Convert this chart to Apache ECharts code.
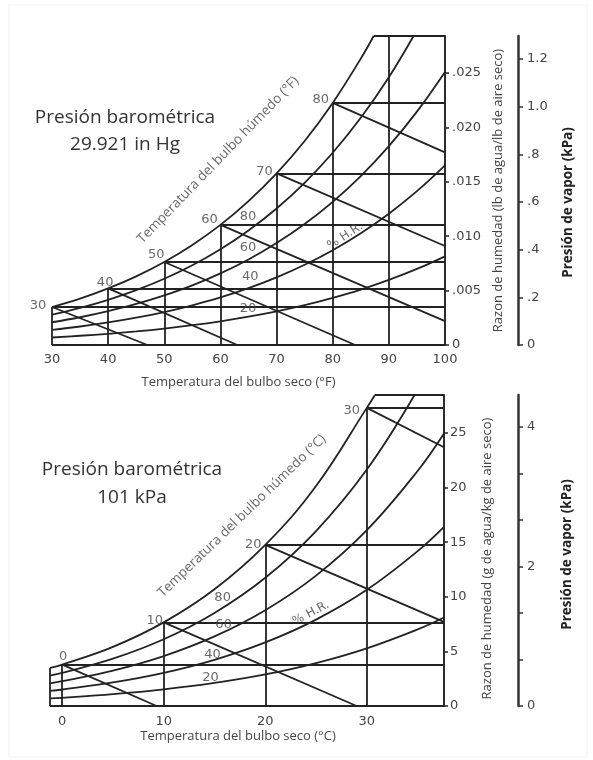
<!DOCTYPE html>
<html>
<head>
<meta charset="utf-8">
<script src="https://cdn.jsdelivr.net/npm/echarts@6/dist/echarts.min.js"></script>
<style>
html,body{margin:0;padding:0;background:#fff;}
#main{width:593px;height:760px;}
</style>
</head>
<body>
<div id="main"></div>
<script>
// ---- carta superior: °F, 29.921 in Hg ----
var tempF = [30,35,40,45,50,55,60,65,70,75,80,85,90,95,100];
var satF  = [0.00349,0.00426,0.00520,0.00631,0.00763,0.00920,0.01104,0.01322,0.01577,0.01875,0.02225,0.02632];
var hr80F = [0.00279,0.00341,0.00415,0.00504,0.00609,0.00733,0.00880,0.01053,0.01255,0.01491,0.01767,0.02088,0.02461];
var hr60F = [0.00209,0.00255,0.00311,0.00377,0.00456,0.00548,0.00658,0.00786,0.00937,0.01112,0.01316,0.01553,0.01828,0.02145,0.02510];
var hr40F = [0.00139,0.00170,0.00207,0.00251,0.00303,0.00365,0.00437,0.00522,0.00621,0.00737,0.00871,0.01027,0.01207,0.01414,0.01651];
var hr20F = [0.00069,0.00085,0.00103,0.00125,0.00151,0.00182,0.00218,0.00260,0.00309,0.00366,0.00433,0.00509,0.00598,0.00699,0.00815];
var satTopF = 87.3, hr80TopF = 94.4, wMaxF = 0.0284, pMaxF = 1.297;
var wbF = [30,40,50,60,70,80];                 // bulbo humedo
var wbEndF = [[47,0],[63,0],[84,0],[100,0.0022],[100,0.0091],[100,0.0177]];
var vertF = [30,40,50,60,70,80,90];
var xTicksF = [30,40,50,60,70,80,90,100];
var wTicksF = [0,0.005,0.010,0.015,0.020,0.025];
var pTicksF = [0,0.2,0.4,0.6,0.8,1.0,1.2];
var hrNames = ['80','60','40','20'];

// ---- carta inferior: °C, 101 kPa ----
var tempC = [-1.2,0,5,10,15,20,25,30,35,37.6];
var satC  = [3.48,3.79,5.42,7.66,10.69,14.75,20.15,27.30];
var hr80C = [2.78,3.03,4.33,6.11,8.52,11.74,16.02,21.65];
var hr60C = [2.08,2.27,3.24,4.57,6.37,8.77,11.94,16.10,21.52,24.95];
var hr40C = [1.39,1.51,2.16,3.04,4.23,5.82,7.91,10.64,14.18,16.41];
var hr20C = [0.69,0.75,1.08,1.52,2.11,2.89,3.93,5.28,7.01,8.10];
var satTopC = 30.8, hr80TopC = 34.7, wMaxC = 28.48, pMaxC = 4.459;
var wbC = [0,10,20,30];
var wbEndC = [[9.3,0],[29,0],[37.6,7.7],[37.6,23.7]];
var vertC = [0,10,20,30];
var xTicksC = [0,10,20,30];
var wTicksC = [0,5,10,15,20,25];
var pTicksC = [0,0.667,1.333,2,2.667,3.333,4];
var pLabelsC = [0,2,4];

var INK = '#222', TXT = '#444';
var numFont = 'DejaVu Sans', txtFont = 'Open Sans';

function curve(xs, ys, topX, topY) {
    var d = ys.map(function(y, i){ return [xs[i], y]; });
    if (topX != null) d.push([topX, topY]);
    return d;
}
function satAt(xs, ys, t) { return ys[xs.indexOf(t)]; }

function curveSeries(data, gi) {
    return {type:'line', xAxisIndex:gi, yAxisIndex:gi*2, data:data, smooth:0.4,
        symbol:'none', silent:true, lineStyle:{color:INK, width:1.8}, z:3};
}

// segmentos rectos de la carta
function segmentos(xs, sat, wb, wbEnd, vert, xMin, xMax, wMax, satTop) {
    var s = [];
    s.push([[xMin,0],[xMax,0]]);
    s.push([[satTop,wMax],[xMax,wMax]]);
    if (xMin < vert[0]) s.push([[xMin,0],[xMin,sat[0]]]);
    vert.forEach(function(t){
        var w = satAt(xs, sat, t);
        s.push([[t,0],[t, w == null ? wMax : w]]);
    });
    wb.forEach(function(t, i){
        var w = satAt(xs, sat, t);
        s.push([[t,w],[xMax,w]]);
        s.push([[t,w], wbEnd[i]]);
    });
    return s;
}

function textSeries(gi, items, extra) {
    return Object.assign({type:'scatter', xAxisIndex:gi, yAxisIndex:gi*2, symbolSize:1, clip:false,
        silent:true, itemStyle:{color:'rgba(0,0,0,0)'}, z:5,
        label:{show:true, position:'inside', color:TXT, fontFamily:numFont, fontSize:13,
            formatter:function(p){ return p.data.name; }},
        data:items}, extra || {});
}

var chart = echarts.init(document.getElementById('main'));

var segF = segmentos(tempF, satF, wbF, wbEndF, vertF, 30, 100, wMaxF, satTopF);
var segC = segmentos(tempC, satC, wbC, wbEndC, vertC, -1.2, 37.6, wMaxC, satTopC);

var wbOffF = [[-14,-1],[-3,-6],[-8,-7],[-11,-5],[-12,-2],[-12,-3]];
var wbOffC = [[1,-8],[-9,-2],[-12,0],[-15,3]];
var hrAtF = [[64.9,0.01176],[64.9,0.00892],[65.3,0.00625],[64.9,0.00331]];
var hrAtC = [[15.8,9.89],[15.9,7.42],[14.8,4.67],[14.6,2.56]];

function wbItems(xs, sat, wb, off) {
    return wb.map(function(t, i){
        return {name:String(t), value:[t, satAt(xs, sat, t)], label:{offset:off[i]}};
    });
}
function hrItems(at) {
    return at.map(function(v, i){ return {name:hrNames[i], value:v}; });
}

var axisName = {color:TXT, fontFamily:txtFont, fontSize:13};
var vaporName = {color:'#222', fontFamily:txtFont, fontSize:13.5, fontWeight:'bold'};

var option = {
    animation:false,
    backgroundColor:'#fff',
    grid:[
        {left:52, top:36, width:393, height:309},
        {left:50, top:395, width:394, height:311}
    ],
    xAxis:[
        {gridIndex:0, type:'value', min:30, max:100,
            axisLine:{show:false, onZero:false}, axisTick:{show:false}, splitLine:{show:false},
            axisLabel:{customValues:xTicksF, margin:8, color:TXT, fontFamily:numFont, fontSize:13},
            name:'Temperatura del bulbo seco (°F)', nameLocation:'middle', nameGap:31,
            nameTextStyle:Object.assign({padding:[0,20,0,0]}, axisName)},
        {gridIndex:1, type:'value', min:-1.2, max:37.6,
            axisLine:{show:false, onZero:false}, axisTick:{show:false}, splitLine:{show:false},
            axisLabel:{customValues:xTicksC, margin:9, color:TXT, fontFamily:numFont, fontSize:13},
            name:'Temperatura del bulbo seco (°C)', nameLocation:'middle', nameGap:24,
            nameTextStyle:Object.assign({padding:[0,18,0,0]}, axisName)}
    ],
    yAxis:[
        {gridIndex:0, type:'value', position:'right', min:0, max:wMaxF,
            axisLine:{show:true, onZero:false, lineStyle:{color:INK, width:1.9}},
            axisTick:{show:true, customValues:wTicksF, length:4, lineStyle:{color:INK, width:1.5}},
            axisLabel:{customValues:wTicksF, margin:7, color:TXT, fontFamily:numFont, fontSize:13,
                formatter:function(v){ return v === 0 ? '0' : v.toFixed(3).replace(/^0/, ''); }},
            splitLine:{show:false},
            name:'Razon de humedad (lb de agua/lb de aire seco)', nameLocation:'middle', nameRotate:90, nameGap:38,
            nameTextStyle:axisName},
        {gridIndex:0, type:'value', position:'right', offset:73, min:0, max:pMaxF,
            axisLine:{show:true, onZero:false, lineStyle:{color:'#333', width:2.5}},
            axisTick:{show:true, customValues:pTicksF, length:5, lineStyle:{color:'#333', width:1.5}},
            axisLabel:{customValues:pTicksF, margin:9, color:TXT, fontFamily:numFont, fontSize:13,
                formatter:function(v){ return v === 0 ? '0' : (v >= 1 ? v.toFixed(1) : v.toFixed(1).replace(/^0/, '')); }},
            splitLine:{show:false},
            name:'Presión de vapor (kPa)', nameLocation:'middle', nameRotate:90, nameGap:43,
            nameTextStyle:Object.assign({padding:[0,24,0,0]}, vaporName)},
        {gridIndex:1, type:'value', position:'right', min:0, max:wMaxC,
            axisLine:{show:true, onZero:false, lineStyle:{color:INK, width:1.9}},
            axisTick:{show:true, customValues:wTicksC, length:4, lineStyle:{color:INK, width:1.5}},
            axisLabel:{customValues:wTicksC, margin:6, color:TXT, fontFamily:numFont, fontSize:13},
            splitLine:{show:false},
            name:'Razon de humedad (g de agua/kg de aire seco)', nameLocation:'middle', nameRotate:90, nameGap:37,
            nameTextStyle:Object.assign({padding:[0,16,0,0]}, axisName)},
        {gridIndex:1, type:'value', position:'right', offset:74, min:0, max:pMaxC,
            axisLine:{show:true, onZero:false, lineStyle:{color:'#333', width:2.5}},
            axisTick:{show:true, customValues:pTicksC, length:5, lineStyle:{color:'#333', width:1.5}},
            axisLabel:{customValues:pLabelsC, margin:9, color:TXT, fontFamily:numFont, fontSize:13},
            splitLine:{show:false},
            name:'Presión de vapor (kPa)', nameLocation:'middle', nameRotate:90, nameGap:42,
            nameTextStyle:Object.assign({padding:[0,8,0,0]}, vaporName)}
    ],
    graphic:[
        {type:'rect', shape:{x:9, y:5, width:578, height:752}, style:{fill:'none', stroke:'#f1f1f1', lineWidth:1}, silent:true},
        {type:'text', x:125, y:118, style:{text:'Presión barométrica', fontFamily:txtFont, fontSize:19, fill:'#333', align:'center', verticalAlign:'middle'}},
        {type:'text', x:125, y:145, style:{text:'29.921 in Hg', fontFamily:txtFont, fontSize:19, fill:'#333', align:'center', verticalAlign:'middle'}},
        {type:'text', x:132, y:470, style:{text:'Presión barométrica', fontFamily:txtFont, fontSize:19, fill:'#333', align:'center', verticalAlign:'middle'}},
        {type:'text', x:132, y:498, style:{text:'101 kPa', fontFamily:txtFont, fontSize:19, fill:'#333', align:'center', verticalAlign:'middle'}}
    ],
    series:[
        curveSeries(curve(tempF, satF, satTopF, wMaxF), 0),
        curveSeries(curve(tempF, hr80F, hr80TopF, wMaxF), 0),
        curveSeries(curve(tempF, hr60F), 0),
        curveSeries(curve(tempF, hr40F), 0),
        curveSeries(curve(tempF, hr20F), 0),
        {type:'lines', coordinateSystem:'cartesian2d', xAxisIndex:0, yAxisIndex:0, silent:true, z:3,
            lineStyle:{color:INK, width:1.8, opacity:1},
            data:segF.map(function(s){ return {coords:s}; })},
        textSeries(0, wbItems(tempF, satF, wbF, wbOffF)),
        textSeries(0, hrItems(hrAtF)),
        textSeries(0, [{name:'% H.R.', value:[82.2,0.0100]}], {label:{show:true, position:'inside', rotate:33,
            color:TXT, fontFamily:numFont, fontSize:12, formatter:function(p){ return p.data.name; }}}),
        textSeries(0, [{name:'Temperatura del bulbo húmedo (°F)', value:[59.6,0.0170]}], {label:{show:true, position:'inside', rotate:46,
            color:TXT, fontFamily:txtFont, fontSize:13.5, formatter:function(p){ return p.data.name; }}}),

        curveSeries(curve(tempC, satC, satTopC, wMaxC), 1),
        curveSeries(curve(tempC, hr80C, hr80TopC, wMaxC), 1),
        curveSeries(curve(tempC, hr60C), 1),
        curveSeries(curve(tempC, hr40C), 1),
        curveSeries(curve(tempC, hr20C), 1),
        {type:'lines', coordinateSystem:'cartesian2d', xAxisIndex:1, yAxisIndex:2, silent:true, z:3,
            lineStyle:{color:INK, width:1.8, opacity:1},
            data:segC.map(function(s){ return {coords:s}; })},
        textSeries(1, wbItems(tempC, satC, wbC, wbOffC)),
        textSeries(1, hrItems(hrAtC)),
        textSeries(1, [{name:'% H.R.', value:[24.5,8.5]}], {label:{show:true, position:'inside', rotate:28,
            color:TXT, fontFamily:numFont, fontSize:12, formatter:function(p){ return p.data.name; }}}),
        textSeries(1, [{name:'Temperatura del bulbo húmedo (°C)', value:[17.7,17.4]}], {label:{show:true, position:'inside', rotate:44,
            color:TXT, fontFamily:txtFont, fontSize:13.5, formatter:function(p){ return p.data.name; }}})
    ]
};
chart.setOption(option);
</script>
</body>
</html>
